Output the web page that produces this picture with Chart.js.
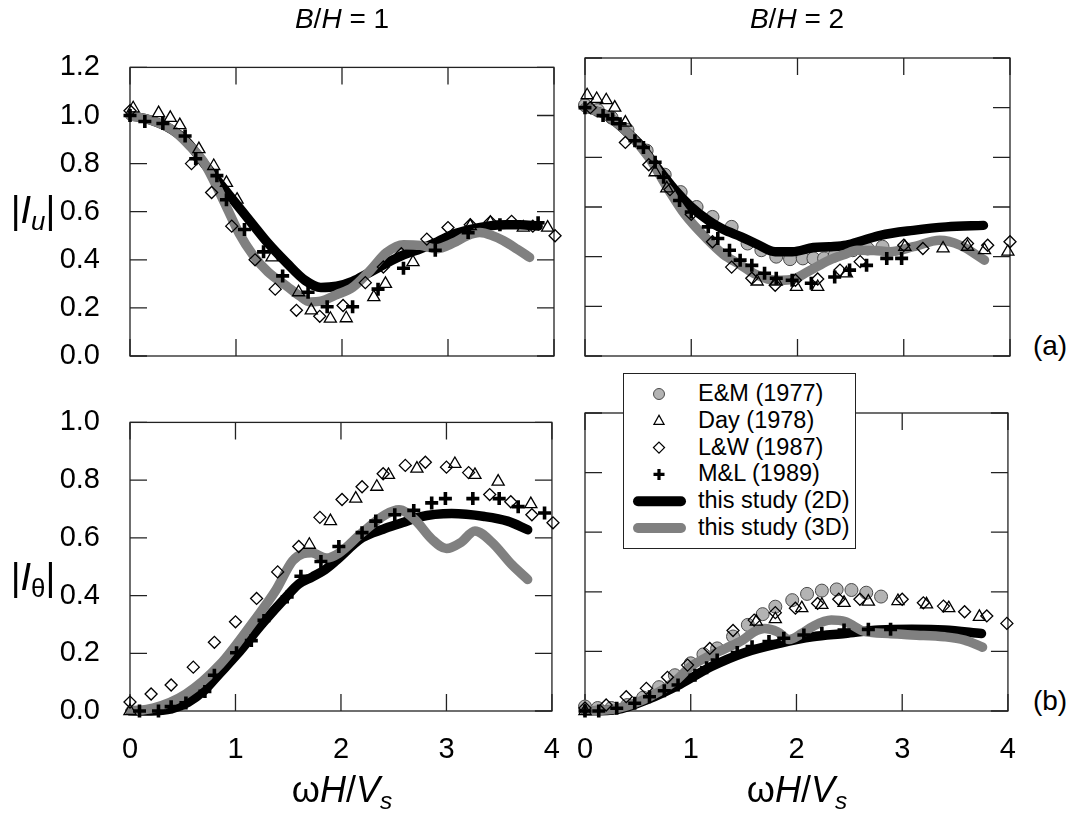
<!DOCTYPE html>
<html><head><meta charset="utf-8">
<script src="https://cdn.jsdelivr.net/npm/chart.js@4.4.0/dist/chart.umd.min.js"></script>
<style>
html,body{margin:0;padding:0;background:#fff;}
#wrap{position:relative;width:1075px;height:814px;overflow:hidden;font-family:"Liberation Sans",Arial,sans-serif;color:#000;background:#fff;}
canvas{position:absolute;}
.t{position:absolute;white-space:nowrap;transform:translate(-50%,-50%);line-height:1;}
.t sub{font-size:0.68em;vertical-align:-0.28em;line-height:0;}
#legend{position:absolute;left:623px;top:373px;width:233px;height:176px;border:1px solid #222;background:#fff;box-sizing:border-box;}
#legend svg{position:absolute;left:0;top:0;}
#legend span{position:absolute;left:74px;font-size:23.5px;line-height:1;transform:translateY(-50%);white-space:nowrap;}
</style></head>
<body><div id="wrap">
<div class="t" style="left:342px;top:19px;font-size:28px;"><i>B</i>/<i>H</i> = 1</div>
<div class="t" style="left:797px;top:19px;font-size:28px;"><i>B</i>/<i>H</i> = 2</div>
<div class="t" style="left:33px;top:210px;font-size:38px;">|<i>I</i><sub><i>u</i></sub>|</div>
<div class="t" style="left:33px;top:577px;font-size:38px;">|<i>I</i><sub>θ</sub>|</div>
<div class="t" style="left:342px;top:790px;font-size:36px;">ω<i>H</i>/<i>V</i><sub><i>s</i></sub></div>
<div class="t" style="left:797px;top:790px;font-size:36px;">ω<i>H</i>/<i>V</i><sub><i>s</i></sub></div>
<div class="t" style="left:1050px;top:346px;font-size:28px;">(a)</div>
<div class="t" style="left:1050px;top:701px;font-size:28px;">(b)</div>
</div>
<script>
// ---------- tick labels ----------
const X_TICKS = ['0','1','2','3','4'];
const Y_TICKS_U = ['0.0','0.2','0.4','0.6','0.8','1.0','1.2'];
const Y_TICKS_T = ['0.0','0.2','0.4','0.6','0.8','1.0'];
const LEGEND_LABELS = ['E&M (1977)','Day (1978)','L&W (1987)','M&L (1989)','this study (2D)','this study (3D)'];

// ---------- top-left: B/H = 1, |Iu| ----------
const TL_2D = [[0,1.0],[0.2,0.98],[0.4,0.94],[0.53,0.895],[0.7,0.8],[0.94,0.667],[1.16,0.546],[1.3,0.47],[1.48,0.386],[1.65,0.315],[1.8,0.285],[1.95,0.29],[2.1,0.31],[2.25,0.345],[2.42,0.386],[2.58,0.42],[2.74,0.446],[2.9,0.475],[3.05,0.506],[3.2,0.525],[3.37,0.54],[3.55,0.546],[3.68,0.546],[3.85,0.54]];
const TL_3D = [[0,1.0],[0.2,0.98],[0.4,0.94],[0.55,0.88],[0.69,0.81],[0.8,0.72],[0.91,0.62],[1.03,0.51],[1.16,0.42],[1.3,0.35],[1.48,0.29],[1.6,0.25],[1.7,0.225],[1.8,0.228],[1.95,0.255],[2.1,0.285],[2.26,0.353],[2.42,0.43],[2.58,0.463],[2.74,0.46],[2.89,0.446],[3.05,0.47],[3.18,0.5],[3.3,0.513],[3.42,0.5],[3.52,0.48],[3.65,0.445],[3.77,0.41]];
const TL_DAY = [[0.03,1.03],[0.27,1.01],[0.38,0.99],[0.47,0.96],[0.65,0.86],[0.79,0.79],[0.91,0.72],[1.01,0.65],[1.34,0.41],[1.59,0.265],[1.71,0.19],[1.89,0.155],[2.04,0.157],[2.3,0.245],[2.41,0.3],[2.67,0.39],[3.21,0.54],[3.4,0.554],[3.71,0.534],[3.94,0.534]];
const TL_LW = [[0.0,1.02],[0.58,0.8],[0.77,0.68],[0.96,0.54],[1.18,0.4],[1.37,0.278],[1.57,0.19],[1.79,0.165],[2.01,0.21],[2.22,0.305],[2.39,0.37],[2.56,0.425],[2.8,0.486],[3.0,0.534],[3.21,0.546],[3.4,0.558],[3.6,0.56],[3.8,0.54],[4.01,0.5]];
const TL_ML = [[0,1.0],[0.14,0.975],[0.31,0.967],[0.52,0.915],[0.62,0.82],[0.82,0.75],[0.91,0.65],[1.08,0.526],[1.26,0.433],[1.44,0.333],[1.68,0.265],[1.86,0.205],[2.1,0.205],[2.34,0.278],[2.58,0.365],[2.88,0.44],[3.19,0.513],[3.49,0.546],[3.85,0.554]];

// ---------- top-right: B/H = 2, |Iu| ----------
const TR_2D = [[0,1.0],[0.2,0.97],[0.4,0.9],[0.53,0.845],[0.63,0.787],[0.85,0.667],[1.0,0.6],[1.16,0.546],[1.3,0.51],[1.47,0.48],[1.62,0.45],[1.79,0.42],[1.95,0.42],[2.15,0.437],[2.3,0.44],[2.46,0.446],[2.62,0.466],[2.78,0.486],[3.09,0.506],[3.4,0.52],[3.75,0.526]];
const TR_3D = [[0,1.0],[0.2,0.97],[0.4,0.9],[0.6,0.8],[0.8,0.66],[0.94,0.57],[1.16,0.466],[1.3,0.41],[1.47,0.365],[1.6,0.33],[1.72,0.31],[1.84,0.305],[1.95,0.308],[2.1,0.34],[2.3,0.386],[2.45,0.41],[2.56,0.426],[2.72,0.425],[2.87,0.42],[3.09,0.44],[3.34,0.466],[3.53,0.446],[3.76,0.386]];
const TR_EM = [[0,1.01],[0.12,0.99],[0.25,0.96],[0.4,0.91],[0.58,0.827],[0.75,0.73],[0.9,0.66],[1.05,0.6],[1.2,0.56],[1.38,0.52],[1.53,0.453],[1.66,0.426],[1.8,0.4],[1.93,0.39],[2.05,0.393],[2.15,0.393],[2.25,0.393],[2.35,0.405],[2.52,0.426],[2.66,0.433],[2.8,0.44]];
const TR_DAY = [[0.02,1.05],[0.11,1.035],[0.2,1.03],[0.28,1.0],[0.38,0.94],[0.66,0.74],[0.77,0.675],[1.62,0.3],[1.8,0.3],[1.99,0.278],[2.19,0.278],[2.46,0.333],[3.01,0.44],[3.37,0.433],[3.6,0.44],[3.76,0.426],[3.98,0.42]];
const TR_LW = [[0.05,1.0],[0.38,0.86],[0.6,0.77],[0.8,0.67],[1.0,0.57],[1.2,0.46],[1.38,0.358],[1.57,0.313],[1.79,0.285],[1.98,0.305],[2.19,0.31],[2.4,0.346],[2.59,0.38],[3.0,0.446],[3.18,0.433],[3.6,0.453],[3.79,0.446],[4.0,0.46]];
const TR_ML = [[0,1.0],[0.17,0.968],[0.26,0.955],[0.33,0.935],[0.47,0.867],[0.55,0.84],[0.66,0.78],[0.74,0.72],[0.89,0.626],[1.0,0.58],[1.16,0.52],[1.25,0.473],[1.36,0.426],[1.46,0.386],[1.57,0.365],[1.69,0.333],[1.8,0.313],[1.95,0.305],[2.13,0.293],[2.35,0.318],[2.49,0.346],[2.65,0.365],[2.84,0.393],[2.98,0.393]];

// ---------- bottom-left: B/H = 1, |Itheta| ----------
const BL_2D = [[0,0],[0.2,0.0],[0.4,0.008],[0.55,0.03],[0.7,0.07],[0.85,0.13],[1.01,0.194],[1.26,0.305],[1.48,0.395],[1.6,0.44],[1.73,0.465],[1.85,0.49],[1.95,0.52],[2.2,0.6],[2.4,0.63],[2.58,0.652],[2.74,0.672],[3.05,0.684],[3.36,0.674],[3.58,0.658],[3.77,0.628]];
const BL_3D = [[0,0],[0.22,0.01],[0.53,0.059],[0.85,0.16],[1.16,0.305],[1.38,0.417],[1.54,0.52],[1.64,0.545],[1.72,0.548],[1.86,0.53],[1.98,0.547],[2.2,0.618],[2.42,0.68],[2.55,0.697],[2.7,0.663],[2.86,0.596],[3.0,0.563],[3.14,0.585],[3.27,0.624],[3.43,0.585],[3.62,0.507],[3.77,0.456]];
const BL_DAY = [[0,0],[1.7,0.576],[1.9,0.658],[2.14,0.736],[2.34,0.777],[2.45,0.818],[2.72,0.84],[3.08,0.856],[3.27,0.818],[3.49,0.795],[3.8,0.717]];
const BL_LW = [[0,0.031],[0.2,0.059],[0.39,0.09],[0.6,0.152],[0.8,0.238],[1.0,0.309],[1.2,0.39],[1.4,0.482],[1.6,0.57],[1.8,0.671],[2.01,0.733],[2.2,0.777],[2.4,0.822],[2.61,0.851],[2.8,0.862],[3.0,0.845],[3.21,0.826],[3.41,0.75],[3.61,0.725],[3.81,0.68],[4.01,0.652]];
const BL_ML = [[0.09,0],[0.27,0],[0.39,0.015],[0.53,0.028],[0.71,0.068],[0.8,0.124],[1.01,0.202],[1.15,0.244],[1.27,0.314],[1.49,0.395],[1.62,0.467],[1.81,0.518],[1.98,0.57],[2.2,0.618],[2.33,0.658],[2.51,0.68],[2.69,0.695],[2.86,0.721],[2.99,0.736],[3.25,0.736],[3.5,0.736],[3.68,0.708],[3.93,0.686]];

// ---------- bottom-right: B/H = 2, |Itheta| ----------
const BR_2D = [[0,0],[0.3,0.005],[0.6,0.04],[0.9,0.09],[1.2,0.15],[1.5,0.195],[1.84,0.227],[2.15,0.249],[2.46,0.26],[2.78,0.272],[3.09,0.274],[3.4,0.272],[3.75,0.26]];
const BR_3D = [[0,0],[0.3,0.008],[0.6,0.045],[0.85,0.1],[1.0,0.149],[1.16,0.182],[1.33,0.21],[1.49,0.238],[1.6,0.266],[1.7,0.277],[1.82,0.266],[1.93,0.24],[2.05,0.26],[2.15,0.283],[2.33,0.305],[2.46,0.3],[2.65,0.266],[2.87,0.26],[3.09,0.255],[3.4,0.249],[3.59,0.238],[3.76,0.214]];
const BR_EM = [[0,0.015],[0.12,0.01],[0.25,0.01],[0.4,0.02],[0.55,0.045],[0.7,0.08],[0.85,0.12],[1.0,0.16],[1.12,0.19],[1.25,0.21],[1.4,0.25],[1.54,0.289],[1.68,0.325],[1.8,0.35],[1.96,0.372],[2.1,0.393],[2.24,0.404],[2.38,0.408],[2.52,0.406],[2.66,0.397],[2.8,0.384]];
const BR_DAY = [[0,0.0],[1.62,0.3],[1.8,0.308],[2.05,0.345],[2.24,0.356],[2.45,0.363],[2.68,0.367],[2.96,0.369],[3.23,0.358],[3.44,0.345],[3.73,0.316]];
const BR_LW = [[0,0.01],[0.2,0.02],[0.39,0.048],[0.58,0.076],[0.78,0.113],[0.97,0.154],[1.18,0.21],[1.4,0.27],[1.6,0.305],[1.8,0.33],[1.99,0.345],[2.2,0.361],[2.4,0.375],[2.6,0.375],[3.0,0.375],[3.2,0.363],[3.39,0.352],[3.59,0.333],[3.8,0.319],[3.99,0.294]];
const BR_ML = [[0,0],[0.13,0],[0.3,0.009],[0.47,0.026],[0.61,0.048],[0.75,0.068],[0.88,0.087],[1.04,0.12],[1.15,0.145],[1.25,0.171],[1.44,0.196],[1.58,0.216],[1.74,0.233],[1.88,0.244],[2.07,0.255],[2.24,0.26],[2.45,0.272],[2.68,0.274],[2.89,0.274]];

// ---------- styling ----------
const FONT = '"Liberation Sans", Arial, sans-serif';
const xy = a => a.map(p => ({x: p[0], y: p[1]}));
const mk = (label, data, style) => Object.assign({label, data: xy(data), showLine: false, clip: false}, style);
const ST = {
  EM:  {pointStyle:'circle', pointRadius:6.5, pointBackgroundColor:'#b3b3b3', pointBorderColor:'#4a4a4a', pointBorderWidth:1},
  DAY: {pointStyle:'triangle', pointRadius:7, pointBackgroundColor:'rgba(0,0,0,0)', pointBorderColor:'#000', pointBorderWidth:1.3},
  LW:  {pointStyle:'rectRot', pointRadius:6, pointBackgroundColor:'rgba(0,0,0,0)', pointBorderColor:'#000', pointBorderWidth:1.3},
  ML:  {pointStyle:'cross', pointRadius:6.5, pointBackgroundColor:'#000', pointBorderColor:'#000', pointBorderWidth:3.6},
  L2D: {showLine:true, pointRadius:0, borderColor:'#000', borderWidth:9.5, cubicInterpolationMode:'monotone', borderCapStyle:'round', borderJoinStyle:'round'},
  L3D: {showLine:true, pointRadius:0, borderColor:'#808080', borderWidth:9.5, cubicInterpolationMode:'monotone', borderCapStyle:'round', borderJoinStyle:'round'}
};
function sets(em, day, lw, ml, l2, l3) {
  const out = [];
  out.push(mk(LEGEND_LABELS[3], ml, ST.ML));
  out.push(mk(LEGEND_LABELS[2], lw, ST.LW));
  out.push(mk(LEGEND_LABELS[1], day, ST.DAY));
  const a = mk(LEGEND_LABELS[5], l3, ST.L3D); a.showLine = true; out.push(a);
  const b = mk(LEGEND_LABELS[4], l2, ST.L2D); b.showLine = true; out.push(b);
  if (em) out.push(mk(LEGEND_LABELS[0], em, ST.EM));
  return out;
}

const framePlugin = {
  id: 'frame',
  beforeDatasetsDraw(chart) {
    const {ctx, chartArea: ca, scales} = chart;
    const TL = 17;
    ctx.save();
    ctx.strokeStyle = '#222';
    ctx.lineWidth = 1.3;
    ctx.strokeRect(ca.left, ca.top, ca.right - ca.left, ca.bottom - ca.top);
    ctx.beginPath();
    scales.x.ticks.forEach(t => {
      const px = scales.x.getPixelForValue(t.value);
      ctx.moveTo(px, ca.bottom); ctx.lineTo(px, ca.bottom - TL);
      ctx.moveTo(px, ca.top); ctx.lineTo(px, ca.top + TL);
    });
    scales.y.ticks.forEach(t => {
      const py = scales.y.getPixelForValue(t.value);
      ctx.moveTo(ca.left, py); ctx.lineTo(ca.left + TL, py);
      ctx.moveTo(ca.right, py); ctx.lineTo(ca.right - TL, py);
    });
    ctx.stroke();
    ctx.restore();
  }
};

const wrap = document.getElementById('wrap');
function makePanel(rect, datasets, showX, showY, yMax, yLabels) {
  const W = 110, H = 60, PT = 30, PR = 20;
  const cv = document.createElement('canvas');
  const cw = rect.r - rect.l + W + PR, ch = rect.b - rect.t + PT + H;
  cv.width = cw; cv.height = ch;
  cv.style.left = (rect.l - W) + 'px'; cv.style.top = (rect.t - PT) + 'px';
  cv.style.width = cw + 'px'; cv.style.height = ch + 'px';
  wrap.insertBefore(cv, wrap.firstChild);
  new Chart(cv, {
    type: 'scatter',
    data: {datasets},
    options: {
      responsive: false, animation: false, devicePixelRatio: 1, events: [],
      layout: {padding: {left: 0, top: PT, right: PR, bottom: 0}},
      plugins: {legend: {display: false}, tooltip: {enabled: false}},
      scales: {
        x: {type: 'linear', min: 0, max: 4, afterFit: s => { s.height = H; },
            grid: {display: false}, border: {display: false},
            ticks: {display: showX, stepSize: 1, padding: 14, color: '#000', maxRotation: 0,
                    font: {family: FONT, size: 29}, callback: (v, i) => X_TICKS[i]}},
        y: {type: 'linear', min: 0, max: yMax, afterFit: s => { s.width = W; },
            grid: {display: false}, border: {display: false},
            ticks: {display: showY, stepSize: 0.2, padding: 22, color: '#000',
                    font: {family: FONT, size: 29}, callback: (v, i) => yLabels[i]}}
      }
    },
    plugins: [framePlugin]
  });
}

makePanel({l:130, t:58, r:554, b:356}, sets(null, TL_DAY, TL_LW, TL_ML, TL_2D, TL_3D), false, true, 1.2, Y_TICKS_U);
makePanel({l:585, t:58, r:1010, b:356}, sets(TR_EM, TR_DAY, TR_LW, TR_ML, TR_2D, TR_3D), false, false, 1.2, Y_TICKS_U);
makePanel({l:130, t:413, r:554, b:711}, sets(null, BL_DAY, BL_LW, BL_ML, BL_2D, BL_3D), true, true, 1.0, Y_TICKS_T);
makePanel({l:585, t:413, r:1010, b:711}, sets(BR_EM, BR_DAY, BR_LW, BR_ML, BR_2D, BR_3D), true, false, 1.0, Y_TICKS_T);

// ---------- legend ----------
const lg = document.createElement('div');
lg.id = 'legend';
const rowY = i => 20 + 26.8 * i;
let svg = '<svg width="80" height="176" xmlns="http://www.w3.org/2000/svg">';
svg += `<circle cx="35" cy="${rowY(0)}" r="5.5" fill="#b3b3b3" stroke="#4a4a4a" stroke-width="1"/>`;
{ const y = rowY(1); svg += `<polygon points="35,${y-5.5} 40,${y+3.5} 30,${y+3.5}" fill="none" stroke="#000" stroke-width="1.3"/>`; }
{ const y = rowY(2); svg += `<polygon points="35,${y-5.5} 40.5,${y} 35,${y+5.5} 29.5,${y}" fill="none" stroke="#000" stroke-width="1.3"/>`; }
{ const y = rowY(3); svg += `<path d="M29.5 ${y} H40.5 M35 ${y-5.5} V${y+5.5}" stroke="#000" stroke-width="3.2"/>`; }
svg += `<line x1="14" y1="${rowY(4)}" x2="57" y2="${rowY(4)}" stroke="#000" stroke-width="10" stroke-linecap="round"/>`;
svg += `<line x1="14" y1="${rowY(5)}" x2="57" y2="${rowY(5)}" stroke="#808080" stroke-width="10" stroke-linecap="round"/>`;
svg += '</svg>';
let html = svg;
LEGEND_LABELS.forEach((t, i) => { html += `<span style="top:${rowY(i)}px">${t.replace('&','&amp;')}</span>`; });
lg.innerHTML = html;
wrap.appendChild(lg);
</script>
</body></html>
